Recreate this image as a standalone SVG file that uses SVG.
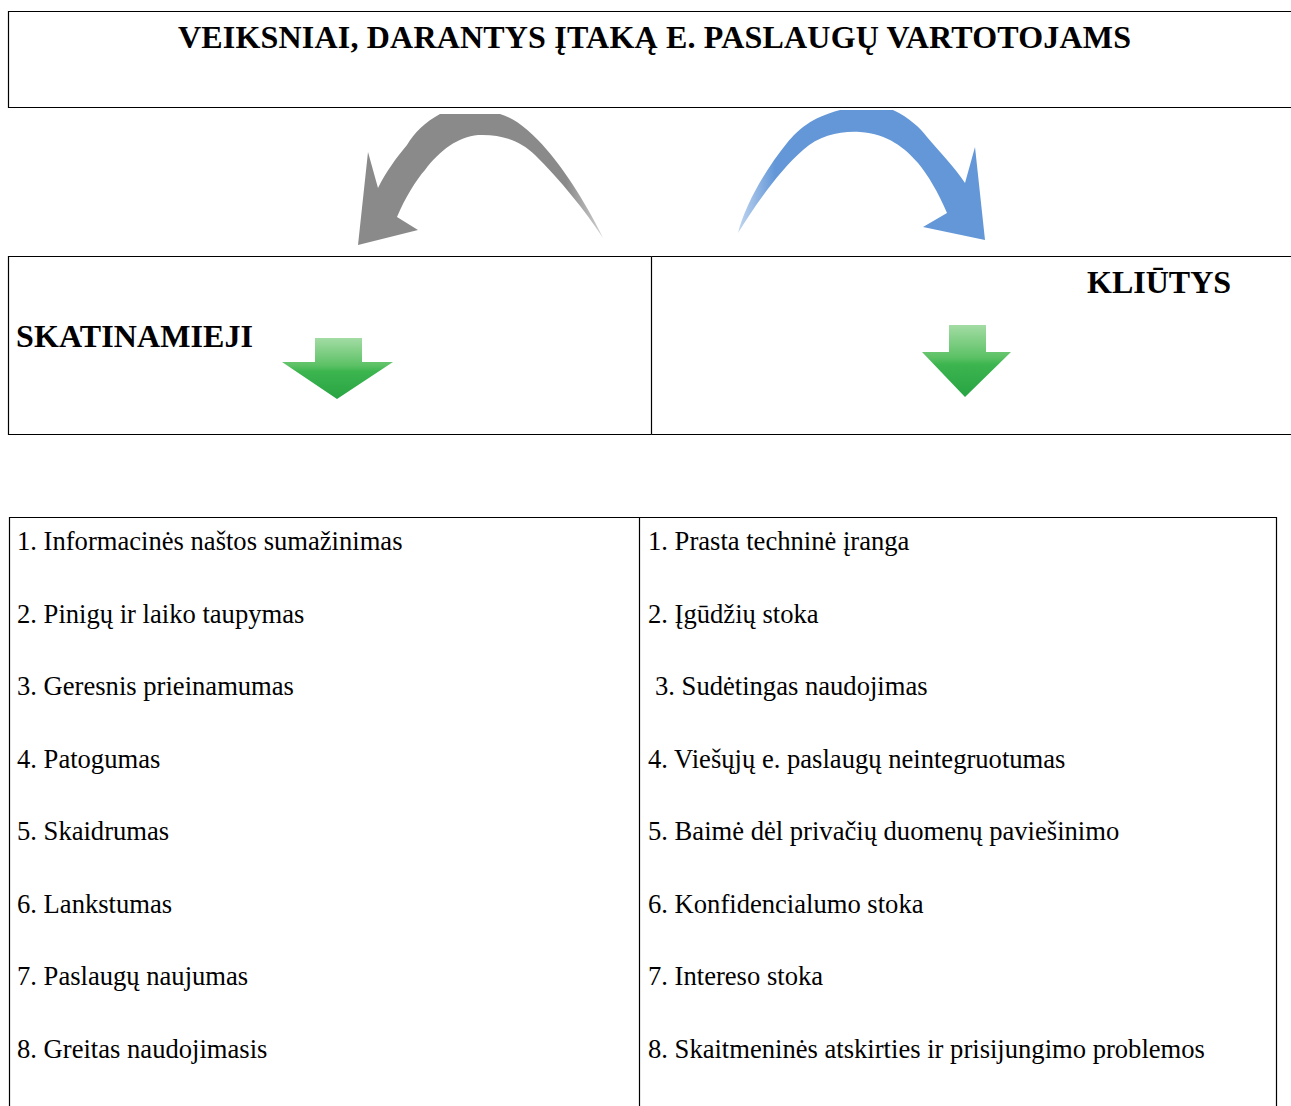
<svg xmlns="http://www.w3.org/2000/svg" width="1291" height="1106" viewBox="0 0 1291 1106">
<style>
.box{fill:none;stroke:#000;stroke-width:1.2}
.bold{font-family:"Liberation Serif","Times New Roman",serif;font-weight:bold;font-size:32px;fill:#000}
.item{font-family:"Liberation Serif","Times New Roman",serif;font-size:26.6px;fill:#000}
.green{fill:url(#gGreen)}
</style>
<defs>
<linearGradient id="gGreen" x1="0" y1="0" x2="0" y2="1">
<stop offset="0" stop-color="#a3dca4"/>
<stop offset="0.45" stop-color="#5cc165"/>
<stop offset="0.55" stop-color="#3cb54f"/>
<stop offset="1" stop-color="#28a443"/>
</linearGradient>
<linearGradient id="gGray" x1="0" y1="0" x2="1" y2="0">
<stop offset="0" stop-color="#8a8a8a"/>
<stop offset="0.85" stop-color="#8a8a8a"/>
<stop offset="1" stop-color="#8a8a8a" stop-opacity="0.4"/>
</linearGradient>
<linearGradient id="gBlue" x1="1" y1="0" x2="0" y2="0">
<stop offset="0" stop-color="#6397d8"/>
<stop offset="0.85" stop-color="#6397d8"/>
<stop offset="1" stop-color="#6397d8" stop-opacity="0.4"/>
</linearGradient>
</defs>
<rect width="1291" height="1106" fill="#fff"/>

<g id="title">
<path class="box" d="M1292,11.5 H8.5 V107.5 H1292"/>
<text class="bold" x="178" y="48" textLength="953">VEIKSNIAI, DARANTYS ĮTAKĄ E. PASLAUGŲ VARTOTOJAMS</text>
</g>

<g id="skatinamieji">
<path class="box" d="M651.5,256.5 H8.5 V434.5 H651.5"/>
<text class="bold" x="16" y="347" textLength="237">SKATINAMIEJI</text>
<path class="green" d="M315,338 L362,338 L362,362 L393,362 L337,399 L282,362 L315,362 Z"/>
</g>

<g id="kliutys">
<path class="box" d="M651.5,256.5 H1292 M651.5,434.5 H1292 M651.5,256.5 V434.5"/>
<text class="bold" x="1087" y="293">KLIŪTYS</text>
<path class="green" d="M949,325 L986,325 L986,352 L1011,352 L965,397 L922,352 L949,352 Z"/>
</g>

<g id="connectors">
<path fill="url(#gGray)" d="M603,238 C590,210 565,170 547,150 C532,132 515,118 500,114 L440,114 C425,122 414,133 407,145 C396,158 386,172 378,188 L368,152 L358,245 L418,230 L397,217 C405,198 416,180 425,170 C440,150 458,137 478,135 C500,134 520,140 535,155 C560,180 585,210 603,238 Z"/>
<path fill="url(#gBlue)" d="M738,233 C745,205 765,170 787,143 C798,130 810,118 840,110 L893,110 C910,118 920,128 927,137 C940,152 955,168 965,183 L975,147 L985,240 L923,227 L947,213 C938,192 928,175 918,163 C905,148 888,134 860,132 C840,131 820,135 803,150 C780,170 755,205 738,233 Z"/>
</g>

<g id="list-left">
<path class="box" d="M9.5,1107 V517.5 H639.5"/>
<text class="item" x="17" y="550">1. Informacinės naštos sumažinimas</text>
<text class="item" x="17" y="622.5">2. Pinigų ir laiko taupymas</text>
<text class="item" x="17" y="695">3. Geresnis prieinamumas</text>
<text class="item" x="17" y="767.5">4. Patogumas</text>
<text class="item" x="17" y="840">5. Skaidrumas</text>
<text class="item" x="17" y="912.5">6. Lankstumas</text>
<text class="item" x="17" y="985">7. Paslaugų naujumas</text>
<text class="item" x="17" y="1057.5">8. Greitas naudojimasis</text>
</g>

<g id="list-right">
<path class="box" d="M639.5,1107 V517.5 H1276.5 V1107"/>
<text class="item" x="648" y="550">1. Prasta techninė įranga</text>
<text class="item" x="648" y="622.5">2. Įgūdžių stoka</text>
<text class="item" x="655" y="695">3. Sudėtingas naudojimas</text>
<text class="item" x="648" y="767.5">4. Viešųjų e. paslaugų neintegruotumas</text>
<text class="item" x="648" y="840">5. Baimė dėl privačių duomenų paviešinimo</text>
<text class="item" x="648" y="912.5">6. Konfidencialumo stoka</text>
<text class="item" x="648" y="985">7. Intereso stoka</text>
<text class="item" x="648" y="1057.5">8. Skaitmeninės atskirties ir prisijungimo problemos</text>
</g>
</svg>
